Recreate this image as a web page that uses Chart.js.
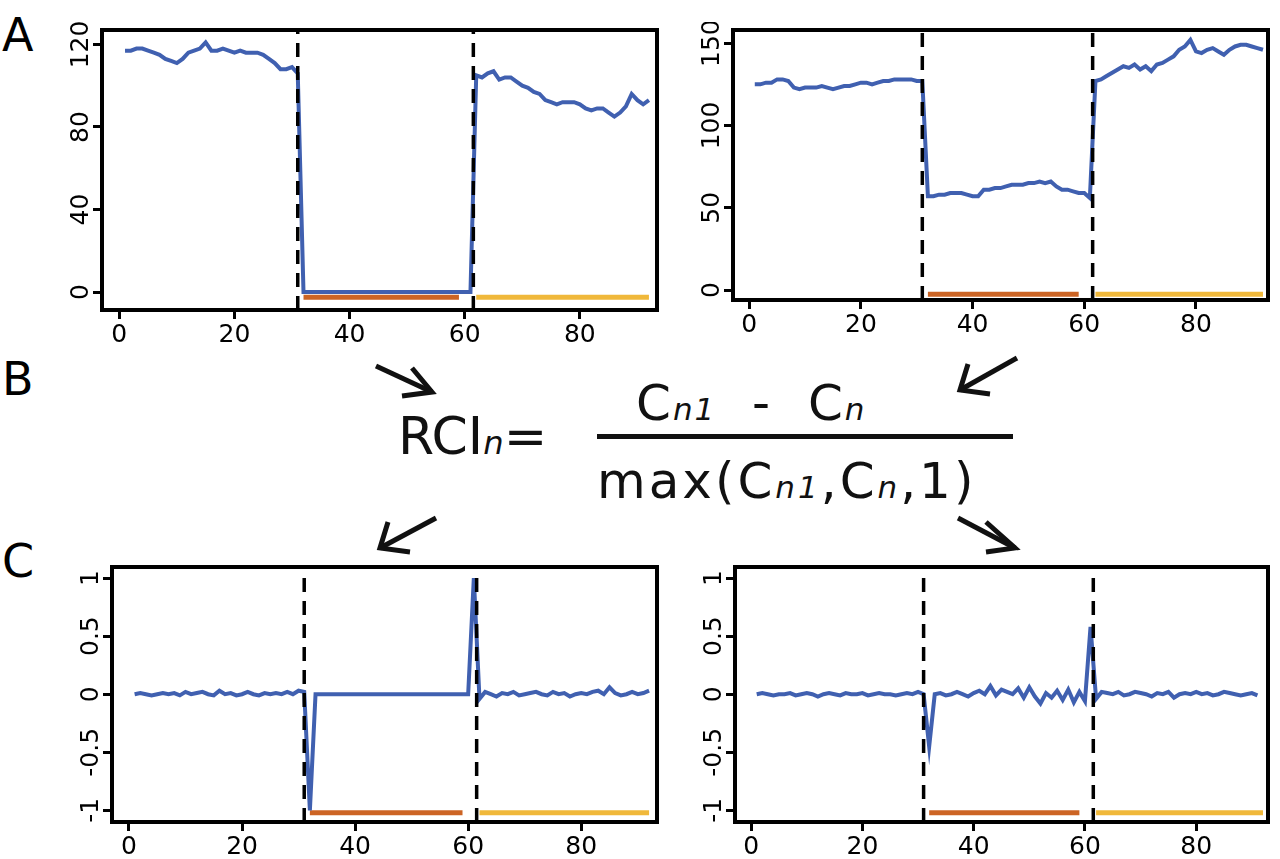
<!DOCTYPE html>
<html>
<head>
<meta charset="utf-8">
<script src="https://cdn.jsdelivr.net/npm/chart.js@4"></script>
<style>
  body { margin: 0; width: 1280px; height: 859px; background: #fff; position: relative; overflow: hidden; font-family: "DejaVu Sans", sans-serif; }
  .box { position: absolute; }
  .lbl { position: absolute; font-size: 46px; color: #000; }
  .f { position: absolute; color: #111; white-space: nowrap; }
  .f i { font-size: 0.62em; }
</style>
</head>
<body>
<div class="lbl" style="left:2px;top:8px">A</div>
<div class="lbl" style="left:2px;top:352px">B</div>
<div class="lbl" style="left:2px;top:534px">C</div>

<div class="f" style="left:398px;top:406px;font-size:52px">RCI<i>n</i>=</div>
<div class="f" style="left:636px;top:374px;font-size:50px;letter-spacing:2px">C<i>n1</i> &nbsp;- &nbsp;C<i>n</i></div>
<div style="position:absolute;left:597px;top:434px;width:416px;height:5px;background:#111"></div>
<div class="f" style="left:597px;top:452px;font-size:50px;letter-spacing:3px">max(C<i>n1</i>,C<i>n</i>,1)</div>

<svg width="1280" height="859" style="position:absolute;left:0;top:0" fill="none" stroke="#111" stroke-width="5">
  <line x1="376" y1="366" x2="432" y2="392"/><polyline points="412,368 432,392 402,396"/>
  <line x1="1017" y1="358" x2="960" y2="390"/><polyline points="968,364 960,390 990,394"/>
  <line x1="436" y1="518" x2="380" y2="548"/><polyline points="388,522 380,548 410,552"/>
  <line x1="958" y1="518" x2="1015" y2="548"/><polyline points="986,522 1015,548 986,552"/>
</svg>

<div class="box" style="left:50px;top:22px;width:612px;height:338px"><canvas id="c1"></canvas></div>
<div class="box" style="left:681px;top:22px;width:592px;height:328px"><canvas id="c2"></canvas></div>
<div class="box" style="left:60px;top:559px;width:602px;height:300px"><canvas id="c3"></canvas></div>
<div class="box" style="left:683px;top:559px;width:590px;height:300px"><canvas id="c4"></canvas></div>

<script>
// time points 1..92
const days = Array.from({ length: 92 }, (_, i) => i + 1);
const xTicks = [0, 20, 40, 60, 80];

// A: coverage, left sample (gene lost in middle segment)
const coverLeft = [117,117,118,118,117,116,115,113,112,111,113,116,117,118,121,117,117,118,117,116,117,116,116,116,115,113,111,108,108,109,
  106,
  0,0,0,0,0,0,0,0,0,0,0,0,0,0,0,0,0,0,0,0,0,0,0,0,0,0,0,0,0,0,
  105,104,106,107,103,104,104,102,100,99,97,96,93,92,91,92,92,92,91,89,88,89,89,87,85,87,90,96,93,91,93];
// A: coverage, right sample
const coverRight = [125,125,126,126,128,128,127,123,122,123,123,123,124,123,122,123,124,124,125,126,126,125,126,127,127,128,128,128,128,127,127,
  57,
  57,58,58,59,59,59,58,57,57,61,61,62,62,63,64,64,64,65,65,66,65,66,63,61,61,60,59,59,56,
  127,128,130,132,134,136,135,137,134,136,133,137,138,140,142,146,148,152,145,144,146,147,145,143,146,148,149,149,148,147,146];
// C: RCI, left sample
const rciLeft = [0,0.01,0,-0.01,0,0.01,0,0.01,-0.01,0.02,0,0.01,0.02,0,-0.01,0.03,0,0.01,-0.01,0,0.02,0,-0.01,0.01,0,0.01,0,0.02,0,0.03,
  0.02,-1,
  0,0,0,0,0,0,0,0,0,0,0,0,0,0,0,0,0,0,0,0,0,0,0,0,0,0,0,0,
  1,-0.04,0.02,0,-0.02,0.01,0,0.02,-0.01,0,0.01,0.02,0,-0.01,0.02,0,0.01,-0.02,0,0.01,0,0.02,0.03,0,0.06,0.01,-0.01,0,0.02,0,0.01,0.03];
// C: RCI, right sample
const rciRight = [0,0.01,0,-0.01,0,0,0.01,-0.01,0,0.01,0,-0.02,0,0.01,0,-0.01,0.01,0,0,0.01,-0.01,0,0.01,0,0,-0.01,0,0.01,0,0.02,
  0,-0.45,
  0,0.01,-0.01,0,0.02,0,-0.02,0.01,0.03,0,0.07,-0.01,0.04,0.02,0,0.05,-0.03,0.06,-0.02,-0.08,0.01,-0.03,0.03,-0.05,0.04,-0.07,0.02,-0.06,
  0.58,-0.04,0.02,0.01,0,0.02,-0.01,0,0.02,0.01,0,-0.02,0.01,0,0.02,-0.03,0,0.01,0,0.02,0,0.01,-0.01,0,0.02,0.01,0,-0.01,0,0.01,-0.01];

const breaks = [31, 61.5];
const lostSpan = [32, 59];
const recoverSpan = [62, 92];

const BLUE = "#4060b0";
const ORANGE = "#cc6424";
const YELLOW = "#f0b83a";

const framePlugin = {
  id: "frame",
  afterDraw(chart) {
    const { ctx, chartArea: a } = chart;
    const ys = chart.scales.y;
    ctx.save();
    ctx.strokeStyle = "#000";
    ctx.lineWidth = 4;
    ctx.strokeRect(a.left, a.top, a.right - a.left, a.bottom - a.top);
    ctx.fillStyle = "#000";
    ctx.font = "25px 'DejaVu Sans'";
    ctx.textAlign = "center";
    ctx.textBaseline = "middle";
    ys.ticks.forEach((t, i) => {
      const py = ys.getPixelForValue(t.value);
      ctx.save();
      ctx.translate(a.left - 21, py);
      ctx.rotate(-Math.PI / 2);
      ctx.fillText(chart.options.yLabels[i], 0, 0);
      ctx.restore();
    });
    ctx.restore();
  }
};

function makeChart(id, values, cfg) {
  const pts = days.map((d, i) => ({ x: d, y: values[i] }));
  const seg = (span, y, color) => ({
    data: [{ x: span[0], y }, { x: span[1], y }],
    borderColor: color, borderWidth: 5, pointRadius: 0, order: 3
  });
  const dash = (x) => ({
    data: [{ x, y: cfg.yMin }, { x, y: cfg.yMax }],
    borderColor: "#000", borderWidth: 3.5, borderDash: [14, 9], pointRadius: 0, order: 1
  });
  new Chart(document.getElementById(id), {
    type: "line",
    data: {
      datasets: [
        { data: pts, borderColor: BLUE, borderWidth: 4, pointRadius: 0, tension: 0, order: 2 },
        seg(lostSpan, cfg.barY, ORANGE),
        seg(recoverSpan, cfg.barY, YELLOW),
        dash(breaks[0]),
        dash(breaks[1])
      ]
    },
    options: {
      responsive: true,
      maintainAspectRatio: false,
      animation: false,
      yLabels: cfg.yTickText,
      layout: { padding: { top: 8, right: 5, left: 0, bottom: 0 } },
      plugins: { legend: { display: false }, tooltip: { enabled: false } },
      scales: {
        x: {
          type: "linear", min: cfg.xMin, max: cfg.xMax,
          afterBuildTicks: (s) => { s.ticks = xTicks.map((v) => ({ value: v })); },
          afterFit: (s) => { s.height = cfg.xH; },
          grid: { drawOnChartArea: false, color: "#000", lineWidth: 3, tickLength: 9 },
          border: { display: false },
          ticks: { color: "#000", font: { family: "DejaVu Sans", size: 25 }, maxRotation: 0, padding: 1 }
        },
        y: {
          type: "linear", min: cfg.yMin, max: cfg.yMax,
          afterBuildTicks: (s) => { s.ticks = cfg.yTicks.map((v) => ({ value: v })); },
          afterFit: (s) => { s.width = cfg.yW; },
          grid: { drawOnChartArea: false, color: "#000", lineWidth: 3, tickLength: 9 },
          border: { display: false },
          ticks: { display: false }
        }
      }
    },
    plugins: [framePlugin]
  });
}

makeChart("c1", coverLeft, { xMin: -3, xMax: 93.4, yMin: -8.7, yMax: 127, yTicks: [0, 40, 80, 120], yTickText: ["0", "40", "80", "120"], barY: -2.5, xH: 50, yW: 52 });
makeChart("c2", coverRight, { xMin: -2.9, xMax: 92.9, yMin: -6, yMax: 158, yTicks: [0, 50, 100, 150], yTickText: ["0", "50", "100", "150"], barY: -2.5, xH: 50, yW: 52 });
makeChart("c3", rciLeft, { xMin: -3, xMax: 93.4, yMin: -1.1, yMax: 1.095, yTicks: [-1, -0.5, 0, 0.5, 1], yTickText: ["-1", "-0.5", "0", "0.5", "1"], barY: -1.02, xH: 37, yW: 52 });
makeChart("c4", rciRight, { xMin: -2.9, xMax: 92.9, yMin: -1.1, yMax: 1.095, yTicks: [-1, -0.5, 0, 0.5, 1], yTickText: ["-1", "-0.5", "0", "0.5", "1"], barY: -1.02, xH: 37, yW: 52 });
</script>
</body>
</html>
